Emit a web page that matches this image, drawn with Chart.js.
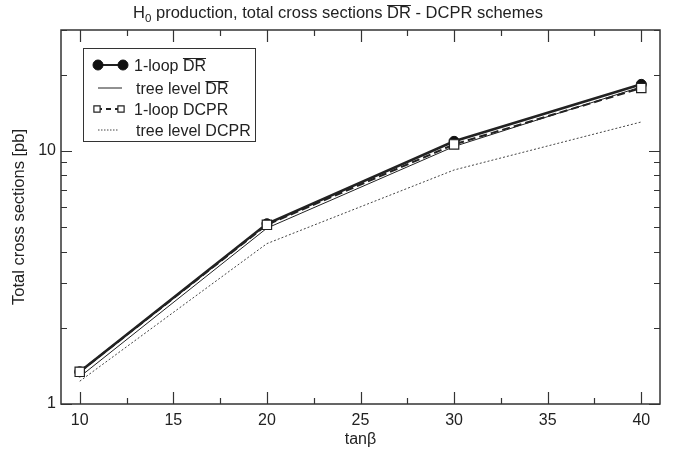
<!DOCTYPE html>
<html>
<head>
<meta charset="utf-8">
<script src="https://cdn.jsdelivr.net/npm/chart.js@4/dist/chart.umd.min.js"></script>
<style>
  html, body { margin: 0; padding: 0; background: #fff; }
</style>
</head>
<body>
<canvas id="myChart" width="677" height="452"></canvas>
<script>
// valores
const tanBeta = [10, 20, 30, 40];
const loopDR = [1.34, 5.15, 10.9, 18.3];
const treeDR = [1.28, 4.95, 10.4, 17.9];
const loopDCPR = [1.34, 5.1, 10.6, 17.7];
const treeDCPR = [1.23, 4.3, 8.4, 13.0];

const xMajor = [10, 15, 20, 25, 30, 35, 40];
const xMinor = [12.5, 17.5, 22.5, 27.5, 32.5, 37.5];
const yMajor = [1, 10];
const yMinor = [2, 3, 4, 5, 6, 7, 8, 9, 20, 30];

const FONT = '"Liberation Sans", Arial, Helvetica, sans-serif';
const INK = '#222';

const toPts = arr => arr.map((v, i) => ({ x: tanBeta[i], y: v }));

// texto con partes subindice / barra encima
function richText(ctx, parts, x, y, size, align) {
    const widths = parts.map(p => {
        ctx.font = (p.sub ? size * 0.7 : size) + 'px ' + FONT;
        return ctx.measureText(p.sub || p.over || p.t).width;
    });
    const total = widths.reduce((a, b) => a + b, 0);
    let cx = align === 'center' ? x - total / 2 : x;
    ctx.textAlign = 'left';
    ctx.textBaseline = 'alphabetic';
    ctx.fillStyle = INK;
    parts.forEach((p, i) => {
        if (p.sub) {
            ctx.font = (size * 0.7) + 'px ' + FONT;
            ctx.fillText(p.sub, cx, y + size * 0.25);
        } else {
            ctx.font = size + 'px ' + FONT;
            ctx.fillText(p.over || p.t, cx, y);
            if (p.over) {
                ctx.beginPath();
                ctx.lineWidth = 1;
                ctx.strokeStyle = INK;
                const oy = Math.round(y - size * 0.8) + 0.5;
                ctx.moveTo(cx, oy);
                ctx.lineTo(cx + widths[i], oy);
                ctx.stroke();
            }
        }
        cx += widths[i];
    });
}

const framePlugin = {
    id: 'frame',
    afterDraw(chart) {
        const ctx = chart.ctx;
        const a = chart.chartArea;
        const xs = chart.scales.x, ys = chart.scales.y;
        ctx.save();
        ctx.strokeStyle = '#333';
        ctx.lineWidth = 1.5;
        ctx.strokeRect(a.left, a.top, a.right - a.left, a.bottom - a.top);
        ctx.lineWidth = 1.2;
        ctx.beginPath();
        const xt = (vals, len) => vals.forEach(v => {
            const px = Math.round(xs.getPixelForValue(v)) + 0.5;
            ctx.moveTo(px, a.bottom); ctx.lineTo(px, a.bottom - len);
            ctx.moveTo(px, a.top); ctx.lineTo(px, a.top + len);
        });
        const yt = (vals, len) => vals.forEach(v => {
            const py = Math.round(ys.getPixelForValue(v)) + 0.5;
            ctx.moveTo(a.left, py); ctx.lineTo(a.left + len, py);
            ctx.moveTo(a.right, py); ctx.lineTo(a.right - len, py);
        });
        xt(xMajor, 12); xt(xMinor, 6);
        yt(yMajor, 11); yt(yMinor, 6);
        ctx.stroke();

        // titulo
        richText(ctx, [{ t: 'H' }, { sub: '0' }, { t: ' production, total cross sections ' },
            { over: 'DR' }, { t: ' - DCPR schemes' }], 338, 18, 16.5, 'center');

        // leyenda
        ctx.lineWidth = 1;
        ctx.strokeStyle = '#333';
        ctx.strokeRect(83.5, 48.5, 172, 93);
        const rows = [
            { ds: 0, y: 65, x0: 98, x1: 123, r: 5, tx: 134, parts: [{ t: '1-loop ' }, { over: 'DR' }] },
            { ds: 1, y: 88, x0: 98, x1: 122, tx: 136, parts: [{ t: 'tree level ' }, { over: 'DR' }] },
            { ds: 2, y: 109, x0: 97, x1: 121, r: 4.4, tx: 134, parts: [{ t: '1-loop DCPR' }] },
            { ds: 3, y: 130, x0: 98, x1: 119, tx: 136, parts: [{ t: 'tree level DCPR' }] }
        ];
        rows.forEach(r => {
            const d = chart.data.datasets[r.ds];
            ctx.save();
            ctx.strokeStyle = d.borderColor;
            ctx.lineWidth = Math.min(d.borderWidth, 2);
            ctx.setLineDash(d.borderDash ? [5, 5] .slice(0, d.borderDash.length) : []);
            if (d.borderDash) ctx.setLineDash(r.ds === 2 ? [5, 4] : [1.5, 1.5]);
            ctx.beginPath();
            ctx.moveTo(r.x0, r.y); ctx.lineTo(r.x1, r.y);
            ctx.stroke();
            ctx.restore();
            if (d.pointRadius > 0) {
                const opts = {
                    pointStyle: d.pointStyle, radius: r.r, rotation: 0,
                    borderWidth: d.pointBorderWidth
                };
                ctx.save();
                ctx.fillStyle = d.pointBackgroundColor;
                ctx.strokeStyle = d.pointBorderColor;
                ctx.lineWidth = d.pointBorderWidth;
                Chart.helpers.drawPoint(ctx, opts, r.x0, r.y);
                Chart.helpers.drawPoint(ctx, opts, r.x1, r.y);
                ctx.restore();
            }
            richText(ctx, r.parts, r.tx, r.y + 6, 16, 'left');
        });
        ctx.restore();
    }
};

const data = {
    datasets: [
        {
            label: '1-loop DR',
            data: toPts(loopDR),
            borderColor: INK,
            borderWidth: 2.6,
            pointStyle: 'circle',
            pointRadius: 5,
            pointBackgroundColor: '#111',
            pointBorderColor: '#111',
            pointBorderWidth: 1,
            order: 1
        },
        {
            label: 'tree level DR',
            data: toPts(treeDR),
            borderColor: INK,
            borderWidth: 1,
            pointRadius: 0,
            order: 2
        },
        {
            label: '1-loop DCPR',
            data: toPts(loopDCPR),
            borderColor: INK,
            borderWidth: 2,
            borderDash: [8, 4],
            pointStyle: 'rect',
            pointRadius: 6.6,
            pointBackgroundColor: '#fff',
            pointBorderColor: INK,
            pointBorderWidth: 1.2,
            order: 0
        },
        {
            label: 'tree level DCPR',
            data: toPts(treeDCPR),
            borderColor: '#444',
            borderWidth: 1,
            borderDash: [2, 2],
            pointRadius: 0,
            order: 3
        }
    ]
};

const config = {
    type: 'line',
    data: data,
    options: {
        responsive: false,
        animation: false,
        devicePixelRatio: 1,
        layout: { padding: { top: 30, right: 17, left: 0, bottom: 0 } },
        plugins: { legend: { display: false }, tooltip: { enabled: false } },
        scales: {
            x: {
                type: 'linear',
                min: 9,
                max: 41,
                afterBuildTicks: s => { s.ticks = xMajor.map(v => ({ value: v })); },
                afterFit: s => { s.height = 48; },
                grid: { display: false, drawTicks: false },
                border: { display: false },
                ticks: { color: INK, font: { family: FONT, size: 16 }, padding: 7, maxRotation: 0, autoSkip: false },
                title: { display: true, text: 'tanβ', color: INK, font: { family: FONT, size: 16 }, padding: { top: 0, bottom: 3 } }
            },
            y: {
                type: 'logarithmic',
                min: 1,
                max: 30,
                afterBuildTicks: s => { s.ticks = yMajor.concat(yMinor).map(v => ({ value: v })); },
                afterFit: s => { s.width = 61; },
                grid: { display: false, drawTicks: false },
                border: { display: false },
                ticks: {
                    color: INK, font: { family: FONT, size: 16 }, padding: 5, autoSkip: false,
                    callback: v => (yMajor.includes(v) ? String(v) : '')
                },
                title: { display: true, text: 'Total cross sections [pb]', color: INK, font: { family: FONT, size: 16.5 }, padding: { top: 10, bottom: 4 } }
            }
        }
    },
    plugins: [framePlugin]
};

const myChart = new Chart(document.getElementById('myChart'), config);
</script>
</body>
</html>
